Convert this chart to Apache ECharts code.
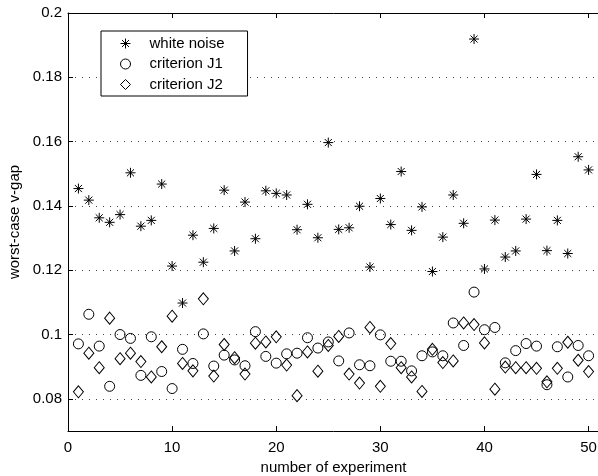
<!DOCTYPE html>
<html><head><meta charset="utf-8">
<script src="https://cdn.jsdelivr.net/npm/echarts@6/dist/echarts.min.js"></script>
<style>html,body{margin:0;padding:0;background:#fff;overflow:hidden}#c{width:598px;height:476px}</style>
</head><body><div id="c"></div>
<script>
const experiments = [1,2,3,4,5,6,7,8,9,10,11,12,13,14,15,16,17,18,19,20,21,22,23,24,25,26,27,28,29,30,31,32,33,34,35,36,37,38,39,40,41,42,43,44,45,46,47,48,49,50];
const whiteNoise = [0.1454,0.1418,0.1363,0.1349,0.1373,0.1503,0.1337,0.1355,0.1468,0.1213,
  0.1098,0.1309,0.1225,0.1330,0.1449,0.1260,0.1412,0.1298,0.1447,0.1439,
  0.1434,0.1326,0.1405,0.1301,0.1597,0.1327,0.1332,0.1399,0.1210,0.1423,
  0.1342,0.1507,0.1324,0.1397,0.1196,0.1303,0.1434,0.1346,0.1919,0.1204,
  0.1356,0.1241,0.1260,0.1359,0.1498,0.1261,0.1355,0.1252,0.1553,0.1512];
const criterionJ1 = [0.0971,0.1063,0.0964,0.0839,0.1000,0.0988,0.0873,0.0993,0.0885,0.0832,
  0.0954,0.0910,0.1002,0.0902,0.0936,0.0921,0.0903,0.1009,0.0932,0.0911,
  0.0940,0.0942,0.0990,0.0958,0.0977,0.0918,0.1005,0.0906,0.0903,0.0999,
  0.0917,0.0917,0.0887,0.0934,0.0946,0.0934,0.1036,0.0966,0.1132,0.1015,
  0.1022,0.0912,0.0950,0.0972,0.0964,0.0844,0.0962,0.0868,0.0966,0.0934];
const criterionJ2 = [0.0822,0.0942,0.0897,0.1051,0.0925,0.0942,0.0916,0.0868,0.0962,0.1057,
  0.0910,0.0887,0.1111,0.0871,0.0969,0.0928,0.0877,0.0973,0.0977,0.0993,
  0.0905,0.0810,0.0946,0.0886,0.0966,0.0994,0.0877,0.0849,0.1022,0.0839,
  0.0972,0.0897,0.0868,0.0823,0.0954,0.0913,0.0918,0.1036,0.1031,0.0974,
  0.0830,0.0899,0.0897,0.0897,0.0895,0.0853,0.0895,0.0976,0.0920,0.0885];
const xTicks = [0,10,20,30,40,50];
const yTicks = [0.08,0.1,0.12,0.14,0.16,0.18,0.2];
const seriesNames = ['white noise','criterion J1','criterion J2'];
const xName = 'number of experiment';
const yName = 'worst-case v-gap';

const FONT = '"Liberation Sans", Arial, Helvetica, sans-serif';
const FS = 15;
const starPath = 'path://M0,-10L0,10M-10,0L10,0M-7.07,-7.07L7.07,7.07M-7.07,7.07L7.07,-7.07';
const zip = v => experiments.map((x, i) => [x, v[i]]);

const chart = echarts.init(document.getElementById('c'), null, {renderer: 'canvas'});
const tickStyle = {color: '#000', width: 1};
const markStyle = {color: 'rgba(0,0,0,0)', borderColor: '#000', borderWidth: 1, opacity: 1};
chart.setOption({
  animation: false,
  backgroundColor: '#fff',
  grid: {left: 68, top: 13, width: 531, height: 418, containLabel: false, outerBoundsMode: 'none'},
  legend: {
    orient: 'vertical', left: 101, top: 31, selectedMode: false,
    backgroundColor: '#fff', borderColor: '#000', borderWidth: 1, borderRadius: 0,
    padding: [5, 23, 4, 19], itemGap: 5.5, itemWidth: 10, itemHeight: 10,
    itemStyle: {color: 'rgba(0,0,0,0)', borderColor: '#000', borderWidth: 1},
    textStyle: {fontSize: FS, fontFamily: FONT, color: '#000', lineHeight: 15, padding: [0, 0, 0, 14]},
    data: seriesNames
  },
  xAxis: [{
    type: 'value', min: 0, max: 51, position: 'bottom',
    axisLine: {show: true, onZero: false, lineStyle: tickStyle},
    axisTick: {show: true, inside: true, length: 5, customValues: xTicks, lineStyle: tickStyle},
    axisLabel: {customValues: xTicks, color: '#000', fontSize: FS, fontFamily: FONT, margin: 9},
    splitLine: {show: false},
    name: xName, nameLocation: 'middle', nameGap: 29,
    nameTextStyle: {color: '#000', fontSize: FS, fontFamily: FONT}
  }, {
    type: 'value', min: 0, max: 51, position: 'top',
    axisLine: {show: true, onZero: false, lineStyle: tickStyle},
    axisTick: {show: true, inside: true, length: 5, customValues: xTicks, lineStyle: tickStyle},
    axisLabel: {show: false}, splitLine: {show: false}
  }],
  yAxis: [{
    type: 'value', min: 0.07, max: 0.2, position: 'left',
    axisLine: {show: true, onZero: false, lineStyle: tickStyle},
    axisTick: {show: true, inside: true, length: 5, customValues: yTicks, lineStyle: tickStyle},
    axisLabel: {customValues: yTicks, color: '#000', fontSize: FS, fontFamily: FONT, margin: 6,
      formatter: v => String(parseFloat(Number(v).toFixed(2)))},
    splitLine: {show: true, lineStyle: {color: '#444', width: 1, type: [1, 6]}},
    name: yName, nameLocation: 'middle', nameGap: 45, nameRotate: 90,
    nameTextStyle: {color: '#000', fontSize: FS, fontFamily: FONT}
  }],
  series: [{
    name: seriesNames[0], type: 'scatter', symbol: starPath, symbolSize: 10,
    itemStyle: markStyle, data: zip(whiteNoise)
  }, {
    name: seriesNames[1], type: 'scatter', symbol: 'circle', symbolSize: 10,
    itemStyle: markStyle, data: zip(criterionJ1)
  }, {
    name: seriesNames[2], type: 'scatter', symbol: 'diamond', symbolSize: [10, 12],
    itemStyle: markStyle, data: zip(criterionJ2)
  }]
});
</script>
</body></html>
